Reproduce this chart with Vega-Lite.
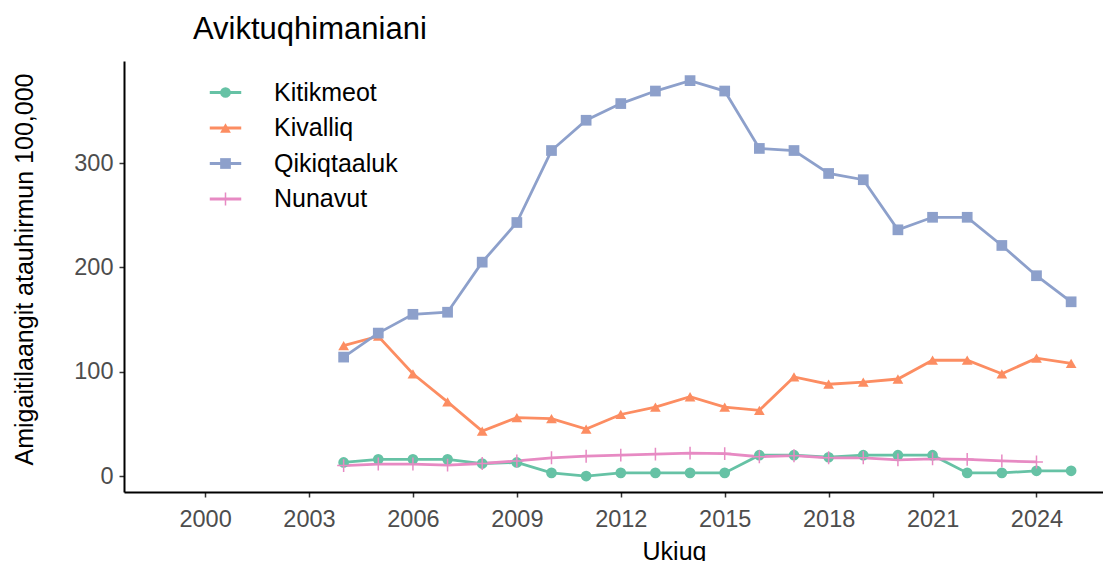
{
  "$schema": "https://vega.github.io/schema/vega-lite/v6.json",
  "width": 979,
  "height": 431,
  "autosize": "none",
  "padding": {"left": 124, "top": 61, "right": 0, "bottom": 69},
  "background": "white",
  "config": {
    "view": {"stroke": null},
    "font": "Liberation Sans",
    "axis": {
      "grid": false,
      "domainColor": "black",
      "domainWidth": 2,
      "tickColor": "#333333",
      "tickWidth": 1.5,
      "tickSize": 5,
      "labelColor": "#4d4d4d",
      "labelFontSize": 23.5,
      "labelFont": "Liberation Sans",
      "titleFont": "Liberation Sans",
      "titleFontSize": 25,
      "titleFontWeight": "normal",
      "titleColor": "black"
    },
    "legend": {"padding": 0, "labelFont": "Liberation Sans"}
  },
  "title": {
    "text": "Aviktuqhimaniani",
    "anchor": "start",
    "frame": "group",
    "dx": 69,
    "dy": 30,
    "fontSize": 31,
    "fontWeight": "normal",
    "color": "black",
    "baseline": "alphabetic",
    "offset": 21,
    "font": "Liberation Sans"
  },
  "data": {
    "values": [
      {"year": 2004, "region": "Kitikmeot", "rate": 13},
      {"year": 2005, "region": "Kitikmeot", "rate": 16},
      {"year": 2006, "region": "Kitikmeot", "rate": 16},
      {"year": 2007, "region": "Kitikmeot", "rate": 16},
      {"year": 2008, "region": "Kitikmeot", "rate": 12},
      {"year": 2009, "region": "Kitikmeot", "rate": 13},
      {"year": 2010, "region": "Kitikmeot", "rate": 3},
      {"year": 2011, "region": "Kitikmeot", "rate": 0},
      {"year": 2012, "region": "Kitikmeot", "rate": 3},
      {"year": 2013, "region": "Kitikmeot", "rate": 3},
      {"year": 2014, "region": "Kitikmeot", "rate": 3},
      {"year": 2015, "region": "Kitikmeot", "rate": 3},
      {"year": 2016, "region": "Kitikmeot", "rate": 20},
      {"year": 2017, "region": "Kitikmeot", "rate": 20},
      {"year": 2018, "region": "Kitikmeot", "rate": 18},
      {"year": 2019, "region": "Kitikmeot", "rate": 20},
      {"year": 2020, "region": "Kitikmeot", "rate": 20},
      {"year": 2021, "region": "Kitikmeot", "rate": 20},
      {"year": 2022, "region": "Kitikmeot", "rate": 3},
      {"year": 2023, "region": "Kitikmeot", "rate": 3},
      {"year": 2024, "region": "Kitikmeot", "rate": 5},
      {"year": 2025, "region": "Kitikmeot", "rate": 5},
      {"year": 2004, "region": "Kivalliq", "rate": 125},
      {"year": 2005, "region": "Kivalliq", "rate": 134},
      {"year": 2006, "region": "Kivalliq", "rate": 98},
      {"year": 2007, "region": "Kivalliq", "rate": 71},
      {"year": 2008, "region": "Kivalliq", "rate": 43},
      {"year": 2009, "region": "Kivalliq", "rate": 56},
      {"year": 2010, "region": "Kivalliq", "rate": 55},
      {"year": 2011, "region": "Kivalliq", "rate": 45},
      {"year": 2012, "region": "Kivalliq", "rate": 59},
      {"year": 2013, "region": "Kivalliq", "rate": 66},
      {"year": 2014, "region": "Kivalliq", "rate": 76},
      {"year": 2015, "region": "Kivalliq", "rate": 66},
      {"year": 2016, "region": "Kivalliq", "rate": 63},
      {"year": 2017, "region": "Kivalliq", "rate": 95},
      {"year": 2018, "region": "Kivalliq", "rate": 88},
      {"year": 2019, "region": "Kivalliq", "rate": 90},
      {"year": 2020, "region": "Kivalliq", "rate": 93},
      {"year": 2021, "region": "Kivalliq", "rate": 111},
      {"year": 2022, "region": "Kivalliq", "rate": 111},
      {"year": 2023, "region": "Kivalliq", "rate": 98},
      {"year": 2024, "region": "Kivalliq", "rate": 113},
      {"year": 2025, "region": "Kivalliq", "rate": 108},
      {"year": 2004, "region": "Qikiqtaaluk", "rate": 114},
      {"year": 2005, "region": "Qikiqtaaluk", "rate": 137},
      {"year": 2006, "region": "Qikiqtaaluk", "rate": 155},
      {"year": 2007, "region": "Qikiqtaaluk", "rate": 157},
      {"year": 2008, "region": "Qikiqtaaluk", "rate": 205},
      {"year": 2009, "region": "Qikiqtaaluk", "rate": 243},
      {"year": 2010, "region": "Qikiqtaaluk", "rate": 312},
      {"year": 2011, "region": "Qikiqtaaluk", "rate": 341},
      {"year": 2012, "region": "Qikiqtaaluk", "rate": 357},
      {"year": 2013, "region": "Qikiqtaaluk", "rate": 369},
      {"year": 2014, "region": "Qikiqtaaluk", "rate": 379},
      {"year": 2015, "region": "Qikiqtaaluk", "rate": 369},
      {"year": 2016, "region": "Qikiqtaaluk", "rate": 314},
      {"year": 2017, "region": "Qikiqtaaluk", "rate": 312},
      {"year": 2018, "region": "Qikiqtaaluk", "rate": 290},
      {"year": 2019, "region": "Qikiqtaaluk", "rate": 284},
      {"year": 2020, "region": "Qikiqtaaluk", "rate": 236},
      {"year": 2021, "region": "Qikiqtaaluk", "rate": 248},
      {"year": 2022, "region": "Qikiqtaaluk", "rate": 248},
      {"year": 2023, "region": "Qikiqtaaluk", "rate": 221},
      {"year": 2024, "region": "Qikiqtaaluk", "rate": 192},
      {"year": 2025, "region": "Qikiqtaaluk", "rate": 167},
      {"year": 2004, "region": "Nunavut", "rate": 10},
      {"year": 2005, "region": "Nunavut", "rate": 11.5},
      {"year": 2006, "region": "Nunavut", "rate": 11.5},
      {"year": 2007, "region": "Nunavut", "rate": 10.5},
      {"year": 2008, "region": "Nunavut", "rate": 12},
      {"year": 2009, "region": "Nunavut", "rate": 14.5},
      {"year": 2010, "region": "Nunavut", "rate": 17.5},
      {"year": 2011, "region": "Nunavut", "rate": 19},
      {"year": 2012, "region": "Nunavut", "rate": 20},
      {"year": 2013, "region": "Nunavut", "rate": 21},
      {"year": 2014, "region": "Nunavut", "rate": 22},
      {"year": 2015, "region": "Nunavut", "rate": 21.5},
      {"year": 2016, "region": "Nunavut", "rate": 18.5},
      {"year": 2017, "region": "Nunavut", "rate": 19.5},
      {"year": 2018, "region": "Nunavut", "rate": 17.5},
      {"year": 2019, "region": "Nunavut", "rate": 17.5},
      {"year": 2020, "region": "Nunavut", "rate": 15.5},
      {"year": 2021, "region": "Nunavut", "rate": 16.5},
      {"year": 2022, "region": "Nunavut", "rate": 16},
      {"year": 2023, "region": "Nunavut", "rate": 14.5},
      {"year": 2024, "region": "Nunavut", "rate": 13.5}
    ]
  },
  "encoding": {
    "x": {
      "field": "year",
      "type": "quantitative",
      "scale": {"domain": [1997.66, 2025.92], "nice": false, "zero": false},
      "axis": {
        "title": "Ukiuq",
        "values": [2000, 2003, 2006, 2009, 2012, 2015, 2018, 2021, 2024],
        "format": "d",
        "labelPadding": 10,
        "titleX": 550,
        "titleY": 67,
        "titleBaseline": "alphabetic",
        "titleAlign": "center"
      }
    },
    "y": {
      "field": "rate",
      "type": "quantitative",
      "scale": {"domain": [-15.3, 397.8], "nice": false, "zero": false},
      "axis": {
        "title": "Amigaitilaangit atauhirmun 100,000",
        "values": [0, 100, 200, 300],
        "labelPadding": 6,
        "titleX": -92,
        "titleY": 208,
        "titleBaseline": "alphabetic",
        "titleAlign": "center",
        "titleAngle": -90
      }
    }
  },
  "layer": [
    {
      "mark": {"type": "line", "strokeWidth": 2.8},
      "encoding": {
        "stroke": {
          "field": "region",
          "type": "nominal",
          "sort": ["Kitikmeot", "Kivalliq", "Qikiqtaaluk", "Nunavut"],
          "scale": {"range": ["#66c2a5", "#fc8d62", "#8da0cb", "#e78ac3"]},
          "legend": {
            "orient": "none",
            "legendX": 89,
            "legendY": 19,
            "title": null,
            "symbolType": "M-3,0H3",
            "symbolSize": 110,
            "symbolStrokeWidth": 2.8,
            "labelOpacity": 0,
            "labelFontSize": 25,
            "labelOffset": 36,
            "rowPadding": 9.5
          }
        }
      }
    },
    {
      "mark": {"type": "point", "filled": true, "size": 115, "opacity": 1},
      "encoding": {
        "color": {
          "field": "region",
          "type": "nominal",
          "scale": {
            "domain": ["Kitikmeot", "Kivalliq", "Qikiqtaaluk", "Nunavut"],
            "range": ["#66c2a5", "#fc8d62", "#8da0cb", "#e78ac3"]
          },
          "legend": {
            "orient": "none",
            "legendX": 89,
            "legendY": 19,
            "title": null,
            "symbolSize": 115,
            "symbolOpacity": 1,
            "labelFontSize": 25,
            "labelColor": "black",
            "labelOffset": 36,
            "rowPadding": 9.5
          }
        },
        "shape": {
          "field": "region",
          "type": "nominal",
          "scale": {
            "domain": ["Kitikmeot", "Kivalliq", "Qikiqtaaluk", "Nunavut"],
            "range": ["circle", "triangle-up", "square", "M-1.2,-0.14H-0.14V-1.2H0.14V-0.14H1.2V0.14H0.14V1.2H-0.14V0.14H-1.2Z"]
          },
          "legend": {
            "orient": "none",
            "legendX": 89,
            "legendY": 19,
            "title": null,
            "symbolSize": 115,
            "symbolOpacity": 1,
            "labelFontSize": 25,
            "labelColor": "black",
            "labelOffset": 36,
            "rowPadding": 9.5
          }
        }
      }
    }
  ]
}
